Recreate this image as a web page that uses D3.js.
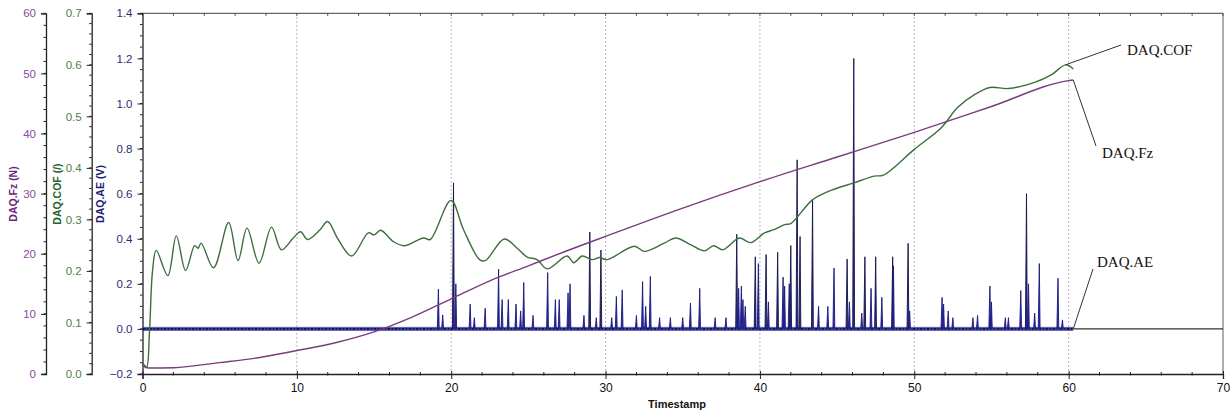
<!DOCTYPE html>
<html><head><meta charset="utf-8">
<script src="https://cdn.jsdelivr.net/npm/d3@7"></script>
<style>body{margin:0;background:#fff}svg{display:block}</style>
</head><body>
<svg id="c" width="1232" height="414"></svg>
<script>
// ---- data ----
const xTicks = [0,10,20,30,40,50,60,70];
const fzTicks = [0,10,20,30,40,50,60];
const cofTicks = [0,0.1,0.2,0.3,0.4,0.5,0.6,0.7];
const aeTicks = [-0.2,0,0.2,0.4,0.6,0.8,1.0,1.2,1.4];

const fzT = [0,0.4,2,5,7.5,10,12.5,15,17.5,20,22.5,25,27.5,30,35,40,45,50,55,60,60.3];
const fzV = [1.8,1.0,1.05,1.9,2.7,3.9,5.2,7.0,9.5,12.5,15.5,18.0,20.5,22.9,27.6,32.0,36.1,40.2,44.5,48.8,48.9];

const cofT = [0,0.25,0.45,0.65,0.89,1.64,2.19,2.79,3.38,3.6,3.8,4.6,5.58,6.19,6.77,7.55,8.36,9.0,9.77,10.24,10.69,11.5,11.99,12.68,13.55,14.63,15.0,15.43,16.25,16.95,18.2,18.64,19.98,20.8,21.84,22.21,23.44,24.27,24.92,25.56,26.21,27.51,27.94,28.49,29.13,29.6,30.1,31.87,32.5,33.8,34.55,35.5,36.4,37.0,37.6,38.66,39.4,40.3,40.9,41.6,42.0,43.4,44.4,46.1,47.4,48.0,50.0,51.75,52.8,53.9,54.9,56.1,57.8,58.9,59.8,60.3];
const cofV = [0.019,0.012,0.08,0.2,0.24,0.191,0.268,0.201,0.249,0.244,0.254,0.206,0.294,0.22,0.283,0.215,0.285,0.241,0.264,0.276,0.261,0.28,0.296,0.261,0.229,0.274,0.27,0.279,0.257,0.249,0.264,0.261,0.337,0.28,0.222,0.22,0.262,0.244,0.227,0.222,0.204,0.229,0.216,0.229,0.222,0.226,0.222,0.248,0.238,0.254,0.264,0.251,0.239,0.249,0.241,0.264,0.255,0.274,0.28,0.29,0.292,0.338,0.354,0.371,0.384,0.386,0.436,0.478,0.517,0.542,0.556,0.554,0.566,0.581,0.6,0.592];

const aeSpikeT = [19.17,19.45,20.15,20.3,21.23,21.5,22.2,23.07,23.3,23.7,24.2,24.5,24.7,25.3,26.25,26.75,27.0,27.57,27.7,28.6,28.98,29.4,29.7,30.4,30.7,31.08,32.0,32.4,32.6,32.9,33.5,34.2,35.0,35.5,36.1,37.1,37.8,38.5,38.62,38.8,38.9,39.05,39.7,39.9,40.4,40.55,41.15,41.5,41.6,41.9,42.0,42.41,42.6,43.41,43.8,44.4,44.8,45.65,45.8,46.08,46.6,46.8,47.2,47.5,47.9,48.6,48.65,49.6,49.7,51.8,51.9,52.2,52.5,53.8,54.1,54.9,55.0,55.9,56.1,56.9,57.27,57.4,57.8,58.1,59.31,59.6];
const aeSpikeV = [0.176,0.062,0.648,0.2,0.11,0.05,0.092,0.265,0.13,0.13,0.11,0.08,0.206,0.06,0.25,0.13,0.13,0.16,0.2,0.06,0.43,0.05,0.35,0.05,0.144,0.173,0.06,0.21,0.1,0.233,0.05,0.05,0.05,0.114,0.18,0.05,0.05,0.42,0.18,0.19,0.13,0.1,0.32,0.29,0.33,0.12,0.34,0.23,0.19,0.2,0.37,0.75,0.41,0.57,0.1,0.1,0.27,0.31,0.12,1.2,0.07,0.32,0.18,0.32,0.14,0.32,0.28,0.38,0.08,0.14,0.11,0.08,0.05,0.05,0.06,0.19,0.12,0.05,0.05,0.17,0.6,0.2,0.07,0.29,0.225,0.04];
const aeEndT = 60.3;

// ---- layout ----
const L = 142.5, R = 1223, T = 13.3, B = 374;
const svg = d3.select("#c");
const x = d3.scaleLinear().domain([0,70]).range([L,R]);
const yAE = d3.scaleLinear().domain([-0.2,1.4]).range([B,T]);
const yFz = d3.scaleLinear().domain([0,60]).range([B,T]);
const yCOF = d3.scaleLinear().domain([0,0.7]).range([B,T]);
const font = "'Liberation Sans', Arial, sans-serif";

// grid
svg.append("g").selectAll("line").data(xTicks.filter(d=>d>0&&d<70)).join("line")
  .attr("x1",d=>x(d)).attr("x2",d=>x(d)).attr("y1",T).attr("y2",B)
  .attr("stroke","#8a8a8a").attr("stroke-width",1).attr("stroke-dasharray","1.2,2.8");

// frame top & right
svg.append("line").attr("x1",L).attr("x2",R).attr("y1",T).attr("y2",T).attr("stroke","#666").attr("stroke-width",1.3);
svg.append("line").attr("x1",R).attr("x2",R).attr("y1",T).attr("y2",B).attr("stroke","#777").attr("stroke-width",1.2);
svg.append("g").selectAll("line").data(d3.range(0,71,2)).join("line")
  .attr("x1",d=>x(d)).attr("x2",d=>x(d)).attr("y1",T).attr("y2",T+2.5).attr("stroke","#444");

// bottom axis
const xAxis = d3.axisBottom(x).tickValues(xTicks).tickSize(5).tickPadding(4).tickFormat(d3.format("d"));
const gx = svg.append("g").attr("transform",`translate(0,${B})`).call(xAxis);
gx.select(".domain").attr("stroke","#222").attr("stroke-width",1.3);
gx.selectAll(".tick line").attr("stroke","#222").attr("y1",-3);
gx.selectAll("text").attr("font-family",font).attr("font-size",12).attr("fill","#111");
svg.append("g").selectAll("line").data(d3.range(0,71,2).filter(d=>d%10)).join("line")
  .attr("x1",d=>x(d)).attr("x2",d=>x(d)).attr("y1",B-2).attr("y2",B+1.5).attr("stroke","#222");
svg.append("text").attr("x",677).attr("y",408).attr("text-anchor","middle")
  .attr("font-family",font).attr("font-weight","bold").attr("font-size",11).attr("fill","#111").text("Timestamp");

// left axes
function leftAxis(scale, ticks, minorStep, xpos, col, fmt){
  const g = svg.append("g").attr("transform",`translate(${xpos},0)`);
  g.call(d3.axisLeft(scale).tickValues(ticks).tickSize(5).tickPadding(5).tickFormat(fmt));
  g.select(".domain").attr("stroke","#222").attr("stroke-width",1.3);
  g.selectAll(".tick line").attr("stroke","#222");
  g.selectAll("text").attr("font-family",font).attr("font-size",11.5).attr("fill",col);
  const dom = scale.domain();
  const minors = d3.range(dom[0], dom[1]+minorStep/2, minorStep);
  g.append("g").selectAll("line").data(minors).join("line")
    .attr("x1",-2.5).attr("x2",0).attr("y1",d=>scale(d)).attr("y2",d=>scale(d)).attr("stroke","#222");
}
leftAxis(yFz, fzTicks, 2, 46, "#8a4a9c", d3.format("d"));
leftAxis(yCOF, cofTicks, 0.02, 91.7, "#4e7e4e", d3.format(".1f"));
leftAxis(yAE, aeTicks, 0.05, L, "#2c2c70", d3.format(".1f"));

function title(xp, txt, col){
  svg.append("text").attr("transform",`translate(${xp},194) rotate(-90)`).attr("text-anchor","middle")
    .attr("font-family",font).attr("font-weight","bold").attr("font-size",10.5).attr("fill",col).text(txt);
}
title(17, "DAQ.Fz (N)", "#6a237e");
title(61, "DAQ.COF (/)", "#23642a");
title(104, "DAQ.AE (V)", "#1c1c74");

// AE reference line at 0 beyond end
svg.append("line").attr("x1",x(aeEndT)).attr("x2",R).attr("y1",yAE(0)).attr("y2",yAE(0)).attr("stroke","#333").attr("stroke-width",1.1);

// AE noise band
svg.append("rect").attr("x",x(0)).attr("width",x(aeEndT)-x(0)).attr("y",yAE(0.009)).attr("height",yAE(-0.009)-yAE(0.009))
  .attr("fill","#2a2a9a").attr("opacity",0.75);
svg.append("line").attr("x1",x(0)).attr("x2",x(aeEndT)).attr("y1",yAE(0)).attr("y2",yAE(0)).attr("stroke","#0c0c5a").attr("stroke-width",1.6)
  .attr("stroke-dasharray","3,1,2,1");

// AE spikes
const spikes = aeSpikeT.map((t,i)=>({t, v:aeSpikeV[i]}));
svg.append("g").selectAll("path").data(spikes).join("path")
  .attr("d", d => d3.line()([[x(d.t-0.07),yAE(0)],[x(d.t),yAE(d.v)],[x(d.t+0.05),yAE(0)]]))
  .attr("fill","#2a2a9a").attr("stroke", d=> d.v>0.3 ? "#15154a" : "#1a1a80").attr("stroke-width",0.9);

// Fz line
const fzData = fzT.map((t,i)=>[t,fzV[i]]);
svg.append("path").datum(fzData)
  .attr("d", d3.line().x(d=>x(d[0])).y(d=>yFz(d[1])).curve(d3.curveMonotoneX))
  .attr("fill","none").attr("stroke","#7a3c7e").attr("stroke-width",1.4);

// COF line
const cofData = cofT.map((t,i)=>[t,cofV[i]]);
svg.append("path").datum(cofData)
  .attr("d", d3.line().x(d=>x(d[0])).y(d=>yCOF(d[1])).curve(d3.curveCatmullRom.alpha(0.5)))
  .attr("fill","none").attr("stroke","#3d6e3d").attr("stroke-width",1.4);

// annotations
const serif = "'Liberation Serif', 'Times New Roman', serif";
function annot(tx, ty, txt, lx1, ly1, lx2, ly2){
  svg.append("line").attr("x1",lx1).attr("y1",ly1).attr("x2",lx2).attr("y2",ly2).attr("stroke","#333").attr("stroke-width",1);
  svg.append("text").attr("x",tx).attr("y",ty).attr("font-family",serif).attr("font-size",15).attr("fill","#111").text(txt);
}
annot(1127, 55, "DAQ.COF", 1121, 45, x(59.8), yCOF(0.6));
annot(1102, 158, "DAQ.Fz", 1096, 146, x(60.3), yFz(48.9));
annot(1097, 266.5, "DAQ.AE", 1093, 269, x(aeEndT), yAE(0));
</script>
</body></html>
